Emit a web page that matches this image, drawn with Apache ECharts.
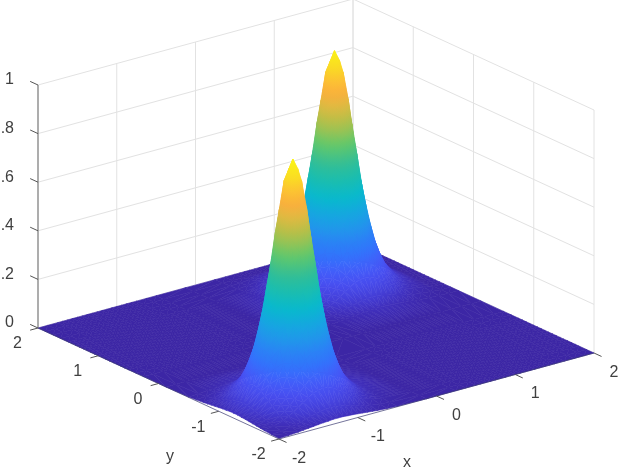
<!DOCTYPE html>
<html><head><meta charset="utf-8">
<style>html,body{margin:0;padding:0;background:#fff}#c{width:626px;height:469px}</style>
<script src="https://cdn.jsdelivr.net/npm/echarts@6/dist/echarts.min.js"></script>
</head><body><div id="c"></div>
<script>
// ---- data ----
const xTicks = [-2, -1, 0, 1, 2];
const yTicks = [-2, -1, 0, 1, 2];
const zTicks = [0, 0.2, 0.4, 0.6, 0.8, 1];
const zTickLabels = ['0', '0.2', '0.4', '0.6', '0.8', '1'];
const peakCenters = [-1.25, 1];       // both peaks sit on x = y
const peakHeights = [1.0, 0.99];
const extraMeshLines = [-0.125, 1.875, 2];
// distance from a peak centre, along each axis
const peakOffsets = [0, 0.0625, 0.125, 0.1875, 0.25, 0.3125, 0.375, 0.4375, 0.5, 0.625, 0.75];
// height of the surface (relative to peak) over one quadrant around a peak
const peakQuadrant = [
 [1,    .954, .831, .669, .505, .364, .252, .172, .114, .049, .020],
 [.954, .910, .795, .642, .487, .351, .245, .167, .111, .048, .020],
 [.831, .795, .698, .568, .435, .317, .222, .154, .104, .045, .018],
 [.669, .642, .568, .470, .364, .270, .192, .133, .091, .040, .017],
 [.505, .487, .435, .364, .287, .216, .159, .111, .078, .035, .015],
 [.364, .351, .317, .270, .216, .167, .124, .089, .063, .029, .013],
 [.252, .245, .222, .192, .159, .124, .093, .069, .049, .023, .011],
 [.172, .167, .154, .133, .111, .089, .069, .051, .037, .018, .009],
 [.114, .111, .104, .091, .078, .063, .049, .037, .027, .014, .007],
 [.049, .048, .045, .040, .035, .029, .023, .018, .014, .008, .004],
 [.020, .020, .018, .017, .015, .013, .011, .009, .007, .004, .002]
];
// colour against height, read from the surface
const colorHeights = [0, .02, .05, .1, .15, .2, .25, .3, .35, .42, .5, .55, .63, .68, .73, .78, .83, .88, .93, 1];
const colorValues = [[60,38,165],[64,48,190],[68,62,215],[72,78,240],[65,95,250],[50,115,252],[42,130,245],[33,150,235],[22,165,225],[8,185,205],[30,190,170],[50,190,150],[100,200,105],[150,195,85],[190,190,70],[225,185,65],[250,175,60],[252,195,50],[250,220,35],[250,245,20]];

// ---- view of the 3-D box ----
const view = {cx:316, cy:340.5, xx:78.75, xy:-21.5, yx:-60.25, yy:-27.75, zy:243};
const project = (x,y,z) => [view.cx+view.xx*x+view.yx*y, view.cy+view.xy*x+view.yy*y-view.zy*z];

const FONT = '16px "Liberation Sans", Arial, sans-serif';
const TEXT = '#404040';

function colorAt(z){
  const h = colorHeights, c = colorValues;
  if (z<=0) return 'rgb('+c[0]+')';
  let i=1; while(i<h.length-1 && h[i]<z) i++;
  const t=Math.min(1,(z-h[i-1])/(h[i]-h[i-1]));
  const v=[0,1,2].map(k=>Math.round(c[i-1][k]+(c[i][k]-c[i-1][k])*t));
  return 'rgb('+v+')';
}

// mesh
const offs=[]; peakOffsets.forEach((o,i)=>{offs.push({o:o,i:i}); if(o) offs.push({o:-o,i:i});});
const meshSet=new Set(extraMeshLines);
peakCenters.forEach(c=>offs.forEach(d=>meshSet.add(c+d.o)));
const mesh=[...meshSet].sort((a,b)=>a-b);
function height(x,y){
  for(let p=0;p<peakCenters.length;p++){
    const a=peakOffsets.indexOf(Math.abs(x-peakCenters[p])), b=peakOffsets.indexOf(Math.abs(y-peakCenters[p]));
    if(a>=0&&b>=0) return peakHeights[p]*peakQuadrant[a][b];
  }
  return 0;
}
const zGrid=mesh.map(x=>mesh.map(y=>height(x,y)));

// triangles, far corner first
const triangles=[];
for(let i=mesh.length-2;i>=0;i--) for(let j=mesh.length-2;j>=0;j--){
  const d1=Math.abs(zGrid[i][j]-zGrid[i+1][j+1]), d2=Math.abs(zGrid[i+1][j]-zGrid[i][j+1]);
  if(d1<=d2){
    triangles.push([i,j,i+1,j,i+1,j+1]);
    triangles.push([i,j,i,j+1,i+1,j+1]);
  }else{
    triangles.push([i+1,j+1,i+1,j,i,j+1]);
    triangles.push([i,j,i+1,j,i,j+1]);
  }
}

function triFill(p,z){
  const zmin=Math.min(z[0],z[1],z[2]), zmax=Math.max(z[0],z[1],z[2]);
  if(zmax-zmin<1e-4) return colorAt(zmin);
  const ax=p[1][0]-p[0][0], ay=p[1][1]-p[0][1], bx=p[2][0]-p[0][0], by=p[2][1]-p[0][1];
  const det=ax*by-ay*bx;
  if(Math.abs(det)<1e-6) return colorAt((zmin+zmax)/2);
  const dz1=z[1]-z[0], dz2=z[2]-z[0];
  const gx=(dz1*by-dz2*ay)/det, gy=(ax*dz2-bx*dz1)/det, g2=gx*gx+gy*gy;
  const s=(zmin-z[0])/g2, e=(zmax-z[0])/g2;
  const n=Math.max(2,Math.min(14,Math.ceil((zmax-zmin)/0.03)+1));
  const colorStops=[];
  for(let k=0;k<n;k++){const t=k/(n-1); colorStops.push({offset:t,color:colorAt(zmin+(zmax-zmin)*t)});}
  return {type:'linear',global:true,x:p[0][0]+gx*s,y:p[0][1]+gy*s,x2:p[0][0]+gx*e,y2:p[0][1]+gy*e,colorStops};
}

// box lines: [x0,y0,z0,x1,y1,z1,kind]  kind 0 wall grid, 1 axis, 2 tick
const wallLines=[];
xTicks.forEach(x=>wallLines.push([x,2,0,x,2,1,0]));
yTicks.forEach(y=>wallLines.push([2,y,0,2,y,1,0]));
zTicks.forEach(z=>{wallLines.push([-2,2,z,2,2,z,0]);wallLines.push([2,2,z,2,-2,z,0]);});
const TX=0.1, TY=0.125, TZ=0.13;
const axisLines=[[-2,2,0,-2,2,1,1],[-2,-2,0,2,-2,0,3],[-2,-2,0,-2,2,0,3]];
xTicks.forEach(x=>axisLines.push([x,-2,0,x,-2-TY,0,2]));
yTicks.forEach(y=>axisLines.push([-2,y,0,-2-TX,y,0,2]));
zTicks.forEach(z=>axisLines.push([-2,2,z,-2,2+TZ,z,2]));

const lineStyles=[{stroke:'#e2e2e2',lineWidth:1},{stroke:'#808080',lineWidth:1.2},{stroke:'#555',lineWidth:1},{stroke:'#3a3a70',lineWidth:.7}];
function renderLine(params,api){
  const a=api.coord(project(api.value(0),api.value(1),api.value(2)));
  const b=api.coord(project(api.value(3),api.value(4),api.value(5)));
  return {type:'line',shape:{x1:a[0],y1:a[1],x2:b[0],y2:b[1]},style:lineStyles[api.value(6)],silent:true};
}
function renderTri(params,api){
  const pts=[],zs=[];
  for(let k=0;k<3;k++){
    const i=api.value(2*k), j=api.value(2*k+1);
    pts.push(api.coord(project(mesh[i],mesh[j],zGrid[i][j]))); zs.push(zGrid[i][j]);
  }
  const fill=triFill(pts,zs);
  return {type:'polygon',shape:{points:pts},style:{fill:fill,stroke:fill,lineWidth:.6},silent:true};
}
// labels: [x,y,z,dx,dy,text]
const labels=[];
xTicks.forEach(x=>labels.push([x,-2,0,20,19.5,String(x)]));
yTicks.forEach(y=>labels.push([-2,y,0,-20.5,16,String(y)]));
zTicks.forEach((z,i)=>labels.push([-2,2,z,-24,-5,zTickLabels[i],'right']));
labels.push([0,-2,0,-29.5,67,'x']);
labels.push([-2,0,0,11.5,73.5,'y']);
function renderText(params,api){
  const l=labels[params.dataIndex];
  const p=api.coord(project(l[0],l[1],l[2]));
  return {type:'text',x:p[0]+l[3],y:p[1]+l[4],style:{text:l[5],font:FONT,fill:TEXT,align:l[6]||'center',verticalAlign:'middle'},silent:true};
}

const chart=echarts.init(document.getElementById('c'),null,{renderer:'canvas'});
chart.setOption({
  animation:false,
  backgroundColor:'#fff',
  grid:{left:0,right:0,top:0,bottom:0},
  xAxis:{type:'value',min:0,max:626,show:false},
  yAxis:{type:'value',min:0,max:469,inverse:true,show:false},
  tooltip:{show:false},
  series:[
    {type:'custom',z:1,clip:false,progressive:0,renderItem:renderLine,data:wallLines,encode:{x:0,y:1}},
    {type:'custom',z:2,clip:false,progressive:0,renderItem:renderTri,data:triangles,encode:{x:0,y:1}},
    {type:'custom',z:3,clip:false,progressive:0,renderItem:renderLine,data:axisLines,encode:{x:0,y:1}},
    {type:'custom',z:4,clip:false,progressive:0,renderItem:renderText,data:labels.map((l,i)=>[i,i]),encode:{x:0,y:1}}
  ]
});
</script></body></html>
